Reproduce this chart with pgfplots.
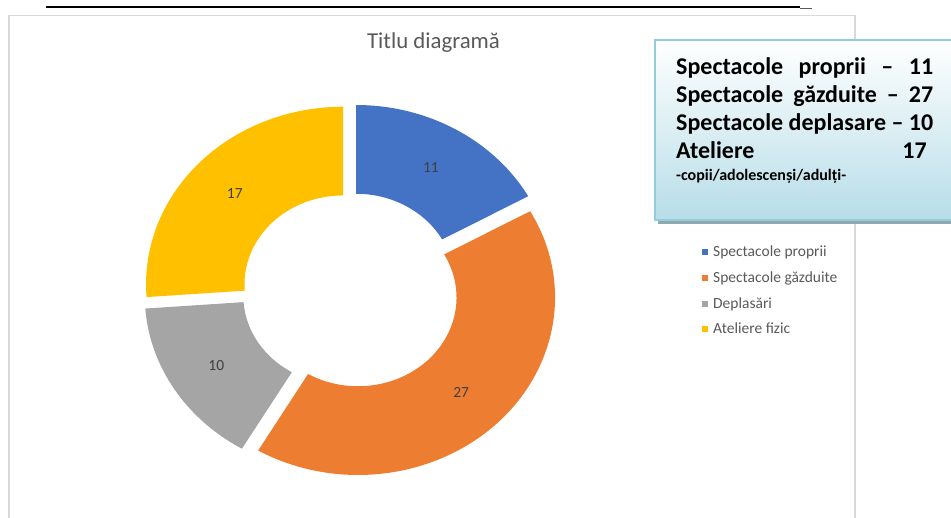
\documentclass[border=0pt]{standalone}
\usepackage{pgfplots}
\pgfplotsset{compat=1.18}
\usepackage{pgfplotstable}
\usepackage{fontspec}
\setmainfont{Carlito}

\definecolor{cBlue}{HTML}{4472C4}
\definecolor{cOrange}{HTML}{ED7D31}
\definecolor{cGray}{HTML}{A5A5A5}
\definecolor{cYellow}{HTML}{FFC000}
\definecolor{cText}{HTML}{595959}
\definecolor{cLabel}{HTML}{404040}
\definecolor{cFrame}{HTML}{D9D9D9}
\definecolor{cBoxBorder}{HTML}{93CDDD}
\definecolor{cBoxBottom}{HTML}{B7DDE8}
\definecolor{cShadow}{HTML}{8FA9B0}

\pgfplotstableread{
label value
proprii 11
gazduite 27
deplasari 10
ateliere 17
}\donutdata

\pgfplotstablegetelem{0}{value}\of\donutdata \let\vA\pgfplotsretval
\pgfplotstablegetelem{1}{value}\of\donutdata \let\vB\pgfplotsretval
\pgfplotstablegetelem{2}{value}\of\donutdata \let\vC\pgfplotsretval
\pgfplotstablegetelem{3}{value}\of\donutdata \let\vD\pgfplotsretval
\pgfmathsetmacro\tot{\vA+\vB+\vC+\vD}
\pgfmathsetmacro\cB{\vA}
\pgfmathsetmacro\cC{\vA+\vB}
\pgfmathsetmacro\cD{\vA+\vB+\vC}

% donut geometry (pt; 1pt = 1px of the reference)
\def\cx{350.7}
\def\cy{227.3}
\def\Rx{197}
\def\Ry{177.5}
\def\rx{98.5}
\def\ry{88.75}
\def\ex{10.5}
\def\ey{9.5}

\tikzset{dlabel/.style={font=\fontsize{15.5}{18}\selectfont, text=cLabel, inner sep=0pt}}

\newcommand\seg[4]{% #1 cumulative start, #2 value, #3 colour, #4 label
  \pgfmathsetmacro\aS{360/\tot*(#1)}%
  \pgfmathsetmacro\aE{360/\tot*(#1+#2)}%
  \pgfmathsetmacro\aM{(\aS+\aE)/2}%
  \pgfmathsetmacro\ox{\cx+\ex*sin(\aM)}%
  \pgfmathsetmacro\oy{\cy+\ey*cos(\aM)}%
  \pgfmathsetmacro\tS{90-\aS}%
  \pgfmathsetmacro\tE{90-\aE}%
  \pgfmathsetmacro\pxA{\ox+\Rx*cos(\tS)}%
  \pgfmathsetmacro\pyA{\oy+\Ry*sin(\tS)}%
  \pgfmathsetmacro\pxB{\ox+\rx*cos(\tE)}%
  \pgfmathsetmacro\pyB{\oy+\ry*sin(\tE)}%
  \pgfmathsetmacro\lx{\ox+0.75*\Rx*sin(\aM)}%
  \pgfmathsetmacro\ly{\oy+0.75*\Ry*cos(\aM)}%
  \edef\temp{\noexpand\fill[#3] (axis cs:\pxA,\pyA) arc[start angle=\tS, end angle=\tE, x radius=\Rx pt, y radius=\Ry pt] -- (axis cs:\pxB,\pyB) arc[start angle=\tE, end angle=\tS, x radius=\rx pt, y radius=\ry pt] -- cycle;
    \noexpand\node[dlabel] at (axis cs:\lx,\ly) {#4};}%
  \temp
}

\begin{document}
\begin{tikzpicture}
\begin{axis}[x=1pt, y=1pt, xmin=0, xmax=951, ymin=0, ymax=518,
  hide axis, clip=false, scale only axis]
  \addplot[draw=none, forget plot] coordinates {(0,0) (951,518)};
  \coordinate (BL) at (axis cs:0,0);
  \coordinate (TR) at (axis cs:951,518);
  % top rule
  \draw[black, line width=2pt] (axis cs:46,510.5) -- (axis cs:800,510.5);
  \draw[black!65, line width=1pt] (axis cs:800,509.6) -- (axis cs:812,509.6);
  % chart frame (bottom cut off)
  \draw[cFrame, line width=1.4pt] (axis cs:9,-5) -- (axis cs:9,502.5) -- (axis cs:855,502.5) -- (axis cs:855,-5);
  % title
  \node[anchor=base, inner sep=0pt, text=cText, font=\fontsize{22.8}{25}\selectfont] at (axis cs:433.5,469.7) {Titlu diagramă};
  % donut
  \seg{0}{\vA}{cBlue}{\vA}
  \seg{\cB}{\vB}{cOrange}{\vB}
  \seg{\cC}{\vC}{cGray}{\vC}
  \seg{\cD}{\vD}{cYellow}{\vD}
  % legend
  \fill[cBlue] (axis cs:701.5,263.3) rectangle (axis cs:707.5,269.3);
  \fill[cOrange] (axis cs:701.5,237) rectangle (axis cs:707.5,243);
  \fill[cGray] (axis cs:701.5,211) rectangle (axis cs:707.5,217);
  \fill[cYellow] (axis cs:701.5,186) rectangle (axis cs:707.5,192);
  \begin{scope}[every node/.style={anchor=base west, inner sep=0pt, text=cText, font=\fontsize{15.5}{18}\selectfont}]
    \node at (axis cs:713,261.3) {Spectacole proprii};
    \node at (axis cs:713,235) {Spectacole găzduite};
    \node at (axis cs:713,209) {Deplasări};
    \node at (axis cs:713,184) {Ateliere fizic};
  \end{scope}
  % text box
  \fill[cShadow] (axis cs:658,294) rectangle (axis cs:960,475);
  \shade[top color=white, bottom color=cBoxBottom] (axis cs:655,298) rectangle (axis cs:960,478);
  \draw[cBoxBorder, line width=2pt] (axis cs:655,298) rectangle (axis cs:960,478);
  \begin{scope}[every node/.style={anchor=base west, inner sep=0pt, text=black, font=\fontsize{24}{28}\selectfont\bfseries}]
    \node at (axis cs:676,443) {\makebox[257pt][s]{Spectacole proprii – 11}};
    \node at (axis cs:676,415.3) {\makebox[257pt][s]{Spectacole găzduite – 27}};
    \node at (axis cs:676,387) {\makebox[257pt][s]{Spectacole deplasare – 10}};
    \node at (axis cs:676,359) {Ateliere};
    \node[anchor=base east] at (axis cs:927,359) {17};
  \end{scope}
  \node[anchor=base west, inner sep=0pt, text=black, font=\fontsize{16}{19}\selectfont\bfseries] at (axis cs:676,337) {-copii/adolescenși/adulți-};
\end{axis}
\pgfresetboundingbox
\path[use as bounding box] (BL) rectangle (TR);
\end{tikzpicture}
\end{document}
